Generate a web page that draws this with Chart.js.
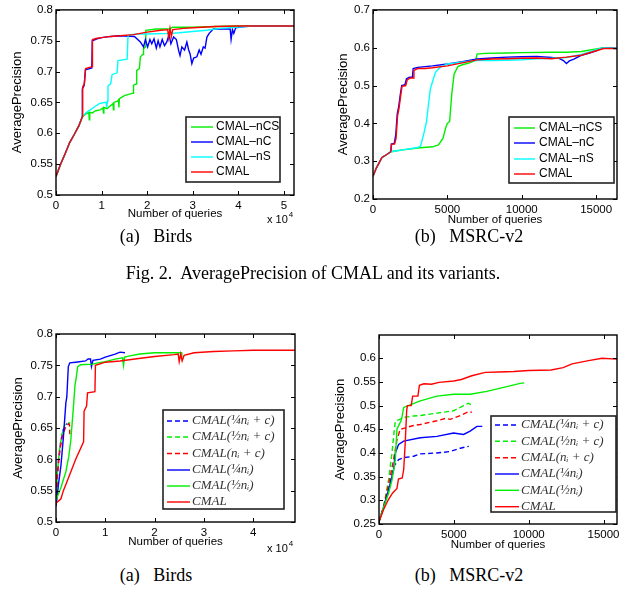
<!DOCTYPE html>
<html><head><meta charset="utf-8">
<script src="https://cdn.jsdelivr.net/npm/chart.js@4/dist/chart.umd.min.js"></script>
<style>
body{margin:0;background:#fff;}
#wrap{position:relative;width:625px;height:593px;overflow:hidden;background:#fff}
canvas{position:absolute}
.cap{position:absolute;font-family:'Liberation Serif','Times New Roman',serif;color:#000;white-space:pre;transform:translate(-50%,-50%);line-height:1}
</style></head><body>
<div id="wrap">
<canvas id="c1" width="312" height="232" style="left:0;top:0"></canvas>
<canvas id="c2" width="313" height="232" style="left:312px;top:0"></canvas>
<canvas id="c3" width="312" height="262" style="left:0;top:300px"></canvas>
<canvas id="c4" width="313" height="262" style="left:312px;top:300px"></canvas>
<div class="cap" style="left:156px;top:236px;font-size:18px">(a)   Birds</div>
<div class="cap" style="left:469px;top:236px;font-size:18px">(b)   MSRC-v2</div>
<div class="cap" style="left:313px;top:273px;font-size:18px">Fig. 2.  AveragePrecision of CMAL and its variants.</div>
<div class="cap" style="left:156px;top:575px;font-size:18px">(a)   Birds</div>
<div class="cap" style="left:469px;top:575px;font-size:18px">(b)   MSRC-v2</div>
</div>
<script>
// ---------- tick values ----------
const birdsTopXTicks = [0, 10000, 20000, 30000, 40000, 50000];
const birdsBotXTicks = [0, 10000, 20000, 30000, 40000];
const msrcXTicks = [0, 5000, 10000, 15000];
const birdsYTicks = [0.5, 0.55, 0.6, 0.65, 0.7, 0.75, 0.8];
const msrcTopYTicks = [0.2, 0.3, 0.4, 0.5, 0.6, 0.7];
const msrcBotYTicks = [0.25, 0.3, 0.35, 0.4, 0.45, 0.5, 0.55, 0.6];

// ---------- labels ----------
const topLabels = ['CMAL', 'CMAL–nS', 'CMAL–nC', 'CMAL–nCS'];
const botLabels = ['CMAL', 'CMAL(½nᵢ)', 'CMAL(¼nᵢ)', 'CMAL(nᵢ + c)', 'CMAL(½nᵢ + c)', 'CMAL(¼nᵢ + c)'];

// ---------- Fig 2 (a) Birds ----------
const tlCMAL = [[0,0.53],[1000,0.55],[2000,0.567],[3000,0.585],[4000,0.598],[5000,0.612],[5800,0.627],[5850,0.675],[6200,0.68],[6500,0.705],[7900,0.708],[8000,0.752],[9000,0.754],[10000,0.755],[12000,0.757],[14000,0.758],[17000,0.76],[20000,0.764],[23000,0.767],[24500,0.768],[24700,0.755],[25000,0.77],[25300,0.757],[25600,0.768],[28000,0.77],[30000,0.771],[35000,0.773],[40000,0.774],[45000,0.774],[52200,0.774]];
const tlNC = [[0,0.53],[1000,0.55],[2000,0.567],[3000,0.585],[4000,0.598],[5000,0.612],[5750,0.627],[5780,0.672],[6200,0.678],[6450,0.703],[7850,0.706],[7950,0.75],[9000,0.753],[10000,0.755],[12000,0.757],[14000,0.758],[17200,0.757],[18500,0.748],[19200,0.74],[19600,0.752],[20100,0.74],[20600,0.752],[21000,0.745],[21500,0.753],[22000,0.738],[22400,0.75],[22800,0.74],[23300,0.752],[23800,0.742],[24300,0.748],[24800,0.76],[25200,0.745],[25800,0.756],[26400,0.752],[26900,0.734],[27200,0.726],[27600,0.74],[28200,0.735],[28700,0.748],[29100,0.735],[29400,0.729],[29800,0.713],[30200,0.722],[30900,0.724],[31400,0.735],[31800,0.728],[32300,0.74],[32700,0.738],[33100,0.756],[33600,0.762],[34500,0.769],[36000,0.769],[38200,0.769],[38400,0.752],[38700,0.768],[39000,0.762],[39400,0.771],[40500,0.772],[41500,0.773],[43000,0.774],[52200,0.774]];
const tlNS = [[0,0.53],[1000,0.55],[2000,0.567],[3000,0.585],[4000,0.598],[5000,0.612],[5800,0.627],[6500,0.633],[7500,0.638],[8500,0.643],[9500,0.648],[10500,0.65],[11000,0.65],[11100,0.642],[11300,0.652],[11400,0.677],[12000,0.68],[12300,0.695],[13400,0.698],[13600,0.718],[15600,0.72],[15800,0.758],[16500,0.76],[18000,0.761],[20000,0.761],[25000,0.762],[27000,0.763],[30000,0.765],[33000,0.767],[36000,0.77],[40000,0.772],[43000,0.774],[52200,0.774]];
const tlNCS = [[0,0.53],[1000,0.55],[2000,0.567],[3000,0.585],[4000,0.598],[5000,0.612],[5800,0.627],[6500,0.631],[7200,0.634],[7300,0.622],[7400,0.634],[8000,0.633],[8500,0.636],[9000,0.637],[9700,0.638],[10300,0.641],[10400,0.633],[10500,0.642],[11200,0.64],[12000,0.645],[12500,0.648],[12600,0.638],[12700,0.65],[13500,0.652],[13700,0.654],[13800,0.642],[13900,0.656],[15000,0.661],[16900,0.665],[17000,0.678],[17600,0.68],[17700,0.702],[18300,0.705],[18500,0.724],[19100,0.728],[19200,0.737],[19600,0.74],[19700,0.767],[22000,0.769],[25000,0.769],[25500,0.772],[30000,0.772],[35000,0.773],[40000,0.774],[52200,0.774]];

// ---------- Fig 2 (b) MSRC-v2 ----------
const trCMAL = [[0,0.26],[200,0.28],[400,0.295],[600,0.31],[900,0.317],[1200,0.325],[1250,0.345],[1450,0.345],[1550,0.36],[1650,0.42],[1750,0.44],[1850,0.47],[1950,0.498],[2200,0.5],[2300,0.515],[2500,0.52],[2700,0.52],[2750,0.54],[3000,0.545],[3500,0.545],[4000,0.547],[5000,0.552],[6000,0.56],[7000,0.568],[8000,0.57],[9000,0.571],[10000,0.572],[11000,0.573],[12000,0.571],[13000,0.575],[14000,0.58],[15000,0.592],[15500,0.598],[16400,0.598]];
const trNC = [[0,0.26],[200,0.28],[400,0.295],[600,0.31],[900,0.317],[1200,0.325],[1230,0.345],[1430,0.347],[1530,0.37],[1630,0.425],[1730,0.445],[1830,0.475],[1930,0.5],[2150,0.502],[2250,0.518],[2450,0.522],[2650,0.522],[2700,0.545],[3000,0.548],[3500,0.55],[4000,0.552],[5000,0.557],[6000,0.563],[7000,0.57],[8000,0.573],[9000,0.575],[10000,0.576],[11000,0.577],[12000,0.574],[12500,0.572],[12800,0.566],[13000,0.558],[13200,0.565],[13500,0.57],[14000,0.58],[14500,0.585],[15000,0.592],[15500,0.6],[16400,0.598]];
const trNS = [[0,0.26],[200,0.28],[400,0.295],[600,0.31],[900,0.317],[1200,0.325],[1500,0.327],[2000,0.33],[2500,0.333],[3000,0.336],[3200,0.34],[3400,0.37],[3600,0.405],[3700,0.44],[3850,0.49],[4000,0.51],[4200,0.535],[4500,0.548],[5000,0.557],[6000,0.562],[7000,0.567],[8000,0.566],[9000,0.567],[10000,0.568],[11000,0.571],[12000,0.572],[13000,0.574],[14000,0.582],[15000,0.595],[15500,0.6],[16400,0.598]];
const trNCS = [[0,0.26],[200,0.28],[400,0.295],[600,0.31],[900,0.317],[1200,0.325],[1500,0.327],[2000,0.33],[3000,0.335],[4000,0.338],[4400,0.343],[4700,0.36],[4900,0.39],[5000,0.4],[5150,0.405],[5300,0.48],[5450,0.53],[5700,0.55],[6000,0.555],[6500,0.56],[6900,0.567],[7000,0.583],[7500,0.585],[9000,0.586],[10000,0.587],[12000,0.588],[13000,0.588],[14000,0.59],[15000,0.597],[15500,0.6],[16400,0.598]];

// ---------- Fig 3 (a) Birds ----------
const blCMAL = [[0,0.53],[1000,0.537],[1500,0.55],[2500,0.57],[4000,0.6],[5600,0.628],[5700,0.677],[6200,0.685],[6400,0.706],[7900,0.708],[8000,0.75],[10000,0.755],[13000,0.757],[16000,0.76],[20000,0.764],[24000,0.767],[24800,0.768],[25000,0.756],[25300,0.768],[25600,0.757],[26000,0.766],[28000,0.77],[32000,0.772],[36000,0.773],[40000,0.774],[48500,0.774]];
const blHalf = [[0,0.535],[1000,0.555],[2000,0.58],[2600,0.605],[3000,0.63],[3300,0.66],[3600,0.69],[3850,0.718],[4100,0.73],[4400,0.748],[5000,0.751],[7500,0.752],[8500,0.754],[10000,0.756],[12000,0.76],[13500,0.762],[13700,0.75],[13900,0.763],[15000,0.765],[17000,0.768],[20000,0.77],[24000,0.77],[25500,0.77],[25600,0.764]];
const blQuarter = [[0,0.525],[500,0.56],[1000,0.59],[1500,0.635],[2000,0.69],[2200,0.7],[2500,0.748],[2800,0.754],[4000,0.755],[6000,0.757],[6500,0.76],[7000,0.76],[7200,0.748],[7500,0.758],[9000,0.76],[10000,0.763],[12000,0.768],[13000,0.771],[14000,0.77]];
const blNc = [[0,0.53],[300,0.575],[800,0.615],[1300,0.638],[2000,0.652],[2600,0.657],[2750,0.655],[2800,0.64]];
const blHalfC = [[0,0.535],[300,0.58],[700,0.615],[1200,0.64],[1800,0.655],[2000,0.658],[2900,0.658]];
const blQuarterC = [[0,0.53],[200,0.565],[500,0.6],[1000,0.63],[1500,0.648],[2000,0.655],[2300,0.657]];

// ---------- Fig 3 (b) MSRC-v2 ----------
const brCMAL = [[0,0.255],[300,0.28],[600,0.3],[900,0.315],[1200,0.325],[1300,0.345],[1550,0.347],[1650,0.365],[1750,0.42],[1850,0.49],[1900,0.5],[2150,0.5],[2250,0.52],[2600,0.52],[2700,0.543],[3000,0.546],[3500,0.545],[4000,0.549],[5000,0.552],[5500,0.555],[6200,0.563],[7100,0.57],[8000,0.571],[9000,0.572],[10000,0.574],[11500,0.575],[12300,0.58],[12900,0.588],[14000,0.595],[14900,0.6],[15900,0.598]];
const brHalf = [[0,0.255],[300,0.285],[640,0.315],[870,0.343],[1090,0.386],[1200,0.45],[1500,0.47],[1650,0.496],[1870,0.499],[2760,0.51],[3870,0.52],[4980,0.524],[6090,0.524],[7200,0.53],[8540,0.54],[9430,0.547],[9700,0.548]];
const brQuarter = [[0,0.255],[300,0.285],[640,0.322],[975,0.364],[1090,0.4],[1310,0.418],[1645,0.425],[2760,0.432],[3870,0.435],[4980,0.442],[5650,0.439],[6090,0.446],[6540,0.456],[6900,0.456]];
const brNc = [[0,0.255],[300,0.285],[750,0.35],[975,0.386],[1200,0.428],[1420,0.45],[1645,0.452],[2310,0.458],[2760,0.46],[3870,0.468],[4430,0.473],[4760,0.471],[5430,0.479],[5980,0.487],[6200,0.486]];
const brHalfC = [[0,0.255],[300,0.285],[640,0.343],[867,0.4],[975,0.435],[1090,0.467],[1310,0.47],[1645,0.475],[2310,0.478],[2760,0.479],[3870,0.484],[4980,0.489],[5650,0.5],[5980,0.505],[6200,0.501]];
const brQuarterC = [[0,0.255],[300,0.285],[750,0.336],[975,0.371],[1310,0.386],[1645,0.39],[2310,0.393],[2760,0.398],[3870,0.4],[4760,0.403],[5430,0.41],[6000,0.414]];

// ---------- helpers ----------
Chart.defaults.font.family = "'Liberation Sans', Arial, sans-serif";
Chart.defaults.color = '#000';
const RED = '#ff0000', GREEN = '#00ee00', BLUE = '#0000ff', CYAN = '#00ffff';
const DASH = [5, 3];

function ds(label, pts, color, dash) {
  return { label, data: pts.map(p => ({ x: p[0], y: p[1] })), borderColor: color, borderWidth: 1.4,
    borderDash: dash || [], pointRadius: 0, fill: false, tension: 0 };
}

const matlabPlugin = {
  id: 'matlab',
  afterDatasetsDraw(chart, args, o) {
    const ctx = chart.ctx, a = chart.chartArea, x = chart.scales.x, y = chart.scales.y;
    ctx.save();
    ctx.strokeStyle = '#000'; ctx.lineWidth = 1;
    const tl = 4;
    ctx.beginPath();
    x.ticks.forEach(t => { const px = Math.round(x.getPixelForValue(t.value)) + 0.5;
      ctx.moveTo(px, a.bottom); ctx.lineTo(px, a.bottom - tl); ctx.moveTo(px, a.top); ctx.lineTo(px, a.top + tl); });
    y.ticks.forEach(t => { const py = Math.round(y.getPixelForValue(t.value)) + 0.5;
      ctx.moveTo(a.left, py); ctx.lineTo(a.left + tl, py); ctx.moveTo(a.right, py); ctx.lineTo(a.right - tl, py); });
    ctx.stroke();
    ctx.lineWidth = 1.4;
    ctx.strokeRect(a.left, a.top, a.right - a.left, a.bottom - a.top);
    const L = o.legend;
    if (L) {
      ctx.fillStyle = '#fff';
      ctx.fillRect(L.box[0], L.box[1], L.box[2] - L.box[0], L.box[3] - L.box[1]);
      ctx.lineWidth = 1.6; ctx.strokeStyle = '#222';
      ctx.strokeRect(L.box[0], L.box[1], L.box[2] - L.box[0], L.box[3] - L.box[1]);
      L.items.forEach((di, i) => {
        const d = chart.data.datasets[di];
        const yy = L.rows[i];
        ctx.beginPath(); ctx.setLineDash(d.borderDash || []);
        ctx.strokeStyle = d.borderColor; ctx.lineWidth = d.borderWidth;
        ctx.moveTo(L.line[0], yy); ctx.lineTo(L.line[1], yy); ctx.stroke(); ctx.setLineDash([]);
        ctx.fillStyle = L.color || '#000'; ctx.font = L.font; ctx.textBaseline = 'middle'; ctx.textAlign = 'left';
        ctx.fillText(d.label, L.tx, yy + (L.dy || 0));
      });
    }
    if (o.exponent) {
      const e = o.exponent;
      ctx.fillStyle = '#000'; ctx.textBaseline = 'middle'; ctx.textAlign = 'left';
      ctx.font = "11px 'Liberation Sans', Arial, sans-serif";
      ctx.fillText('x 10', e.x, e.y);
      const w = ctx.measureText('x 10').width;
      ctx.font = "8px 'Liberation Sans', Arial, sans-serif";
      ctx.fillText('4', e.x + w + 1, e.y - 5);
    }
    ctx.restore();
  }
};

function make(id, datasets, o) {
  return new Chart(document.getElementById(id), {
    type: 'line',
    data: { datasets },
    plugins: [matlabPlugin],
    options: {
      responsive: false, animation: false, events: [],
      layout: { padding: { left: 0, top: o.top, right: o.right, bottom: 0 } },
      plugins: { legend: { display: false }, tooltip: { enabled: false }, matlab: { legend: o.legend, exponent: o.exponent } },
      scales: {
        x: { type: 'linear', min: 0, max: o.xmax,
          grid: { display: false, drawTicks: false }, border: { display: false },
          afterBuildTicks: s => { s.ticks = o.xt.map(v => ({ value: v })); },
          afterFit: s => { s.height = o.xh; },
          ticks: { padding: 4, maxRotation: 0, autoSkip: false, font: { size: 11.5 }, color: '#000', callback: o.xf },
          title: { display: true, text: 'Number of queries', font: { size: 11.5 }, color: '#000', padding: { top: 0, bottom: o.xtp } } },
        y: { type: 'linear', min: o.ymin, max: o.ymax,
          grid: { display: false, drawTicks: false }, border: { display: false },
          afterBuildTicks: s => { s.ticks = o.yt.map(v => ({ value: v })); },
          afterFit: s => { s.width = o.yw; },
          ticks: { padding: 3, autoSkip: false, font: { size: 11.5 }, color: '#000', callback: v => String(+(+v).toFixed(2)) },
          title: { display: true, text: 'AveragePrecision', font: { size: 13 }, color: '#000', padding: { top: o.ytp, bottom: 0 } } }
      }
    }
  });
}

const sansLegend = "12px 'Liberation Sans', Arial, sans-serif";
const serifLegend = "italic 13px 'Liberation Serif', 'DejaVu Serif', serif";

make('c1', [ds(topLabels[0], tlCMAL, RED), ds(topLabels[1], tlNS, CYAN), ds(topLabels[2], tlNC, BLUE), ds(topLabels[3], tlNCS, GREEN)], {
  top: 9, right: 18, xmax: 52200, ymin: 0.5, ymax: 0.8, xt: birdsTopXTicks, yt: birdsYTicks,
  xf: v => String(v / 10000), xh: 37, xtp: 11, yw: 56, ytp: 10,
  legend: { box: [186, 117, 280, 182], rows: [127, 142, 157, 172], items: [3, 2, 1, 0], line: [191, 213], tx: 216, font: sansLegend },
  exponent: { x: 267, y: 220 }
});
make('c2', [ds(topLabels[0], trCMAL, RED), ds(topLabels[1], trNS, CYAN), ds(topLabels[2], trNC, BLUE), ds(topLabels[3], trNCS, GREEN)], {
  top: 8, right: 8, xmax: 16400, ymin: 0.2, ymax: 0.7, xt: msrcXTicks, yt: msrcTopYTicks,
  xf: v => String(v), xh: 33, xtp: 5, yw: 61, ytp: 24,
  legend: { box: [197, 117, 302, 183], rows: [128, 143, 159, 174], items: [3, 2, 1, 0], line: [202, 223], tx: 227, font: sansLegend }
});
make('c3', [ds(botLabels[0], blCMAL, RED), ds(botLabels[1], blHalf, GREEN), ds(botLabels[2], blQuarter, BLUE),
  ds(botLabels[3], blNc, RED, DASH), ds(botLabels[4], blHalfC, GREEN, DASH), ds(botLabels[5], blQuarterC, BLUE, DASH)], {
  top: 34, right: 17, xmax: 48500, ymin: 0.5, ymax: 0.8, xt: birdsBotXTicks, yt: birdsYTicks,
  xf: v => String(v / 10000), xh: 40, xtp: 13, yw: 56, ytp: 10.5,
  legend: { box: [163, 110, 284, 209], rows: [121, 137, 153.5, 170, 186, 202], items: [5, 4, 3, 2, 1, 0], line: [167, 190], tx: 192, font: serifLegend, color: '#333' },
  exponent: { x: 267, y: 249 }
});
make('c4', [ds(botLabels[0], brCMAL, RED), ds(botLabels[1], brHalf, GREEN), ds(botLabels[2], brQuarter, BLUE),
  ds(botLabels[3], brNc, RED, DASH), ds(botLabels[4], brHalfC, GREEN, DASH), ds(botLabels[5], brQuarterC, BLUE, DASH)], {
  top: 35, right: 8, xmax: 15900, ymin: 0.25, ymax: 0.649, xt: msrcXTicks, yt: msrcBotYTicks,
  xf: v => String(v), xh: 38, xtp: 10, yw: 67, ytp: 21,
  legend: { box: [179, 116, 304, 212], rows: [125, 141.3, 157.7, 174, 190.3, 206.7], items: [5, 4, 3, 2, 1, 0], line: [183, 207], tx: 209, font: serifLegend, color: '#333' }
});
</script>
</body></html>
